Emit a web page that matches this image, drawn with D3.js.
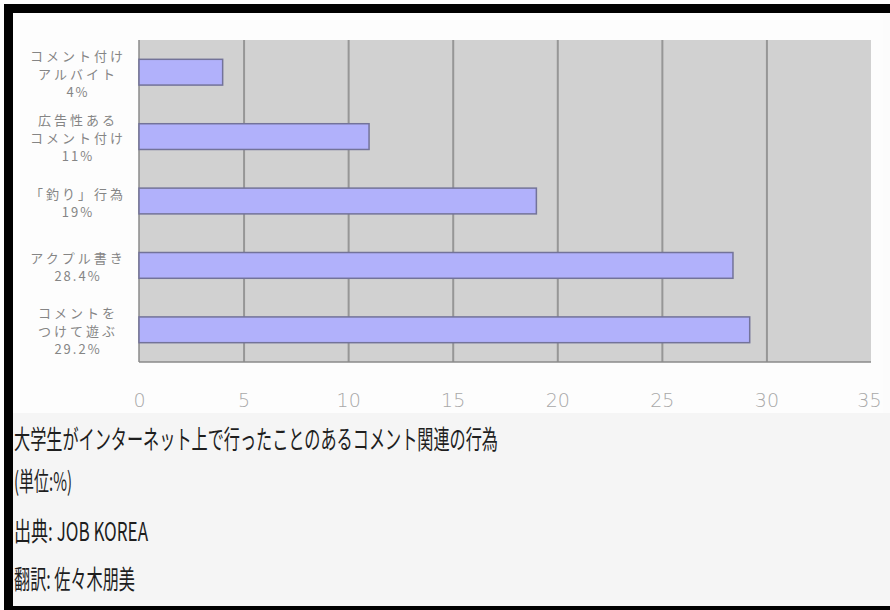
<!DOCTYPE html>
<html>
<head>
<meta charset="utf-8">
<script src="https://cdn.jsdelivr.net/npm/d3@7"></script>
<style>
  body { margin: 0; background: #fff; }
  svg { display: block; }
</style>
</head>
<body>
<div id="chart"></div>
<script>
// data
var categories = ['コメント付け|アルバイト|4%', '広告性ある|コメント付け|11%', '「釣り」行為|19%', 'アクプル書き|28.4%', 'コメントを|つけて遊ぶ|29.2%'];
var values = [4, 11, 19, 28.4, 29.2];
var tick_values = [0, 5, 10, 15, 20, 25, 30, 35];
var caption_lines = ['大学生がインターネット上で行ったことのあるコメント関連の行為', '(単位:%)', '出典: JOB KOREA', '翻訳: 佐々木朋美'];
var caption_widths = [484, 58, 134, 121];

var width = 890, height = 610;
var svg = d3.select('#chart').append('svg').attr('width', width).attr('height', height);

// frame: black on top, left and bottom
svg.append('rect').attr('x', 0).attr('y', 0).attr('width', width).attr('height', height).attr('fill', '#fcfcfc');
svg.append('rect').attr('x', 13).attr('y', 13).attr('width', 870).attr('height', 400).attr('fill', '#fdfdfd');
svg.append('rect').attr('x', 13).attr('y', 413).attr('width', 877).attr('height', 193).attr('fill', '#f5f5f5');
svg.append('rect').attr('x', 4).attr('y', 4).attr('width', 886).attr('height', 9).attr('fill', '#000');
svg.append('rect').attr('x', 4).attr('y', 4).attr('width', 9).attr('height', 606).attr('fill', '#000');
svg.append('rect').attr('x', 4).attr('y', 606).attr('width', 886).attr('height', 4).attr('fill', '#000');

var plot = { left: 139, top: 40, right: 871, bottom: 362 };

var x_scale = d3.scaleLinear().domain([0, 35]).range([plot.left, plot.right]);
var y_scale = d3.scaleBand().domain(categories).range([plot.top, plot.bottom])
    .paddingInner(0.6).paddingOuter(0.3);

// plot background
svg.append('rect')
    .attr('x', plot.left).attr('y', plot.top)
    .attr('width', plot.right - plot.left).attr('height', plot.bottom - plot.top)
    .attr('fill', '#d1d1d1');

// vertical grid lines
var grid = svg.append('g')
    .attr('transform', 'translate(0,' + plot.bottom + ')')
    .call(d3.axisBottom(x_scale).tickValues(tick_values.slice(1, -1)).tickSize(-(plot.bottom - plot.top)).tickFormat(''));
grid.select('.domain').remove();
grid.selectAll('line').attr('stroke', '#969696').attr('stroke-width', 2);

// axis lines left and bottom
svg.append('line').attr('x1', plot.left).attr('x2', plot.left).attr('y1', plot.top).attr('y2', plot.bottom)
    .attr('stroke', '#8a8a8a').attr('stroke-width', 1.5);
svg.append('line').attr('x1', plot.left).attr('x2', plot.right).attr('y1', plot.bottom).attr('y2', plot.bottom)
    .attr('stroke', '#8a8a8a').attr('stroke-width', 1.5);

// bars
svg.append('g').selectAll('rect').data(values).enter().append('rect')
    .attr('x', x_scale(0))
    .attr('y', (d, i) => y_scale(categories[i]))
    .attr('width', d => x_scale(d) - x_scale(0))
    .attr('height', y_scale.bandwidth())
    .attr('fill', '#b1b1fb')
    .attr('stroke', '#737399')
    .attr('stroke-width', 1.5);

// x tick labels
var x_axis = svg.append('g')
    .attr('transform', 'translate(0,' + 400 + ')')
    .call(d3.axisBottom(x_scale).tickValues(tick_values).tickSize(0).tickPadding(0));
x_axis.select('.domain').remove();
x_axis.selectAll('text')
    .attr('dy', '0.35em')
    .attr('fill', '#a8a8a8')
    .attr('font-family', '"DejaVu Sans", sans-serif')
    .attr('font-weight', 200)
    .attr('font-size', 19)
    .attr('text-anchor', d => d === 35 ? 'end' : 'middle')
    .attr('x', d => d === 35 ? 10 : 0);

// category labels, centred to the left of the plot
var labels = svg.append('g');
categories.forEach((cat, i) => {
    var lines = cat.split('|');
    var cy = y_scale(cat) + y_scale.bandwidth() / 2 + 2;
    var line_h = 18;
    lines.forEach((line, j) => {
        var is_num = /%$/.test(line);
        labels.append('text')
            .attr('x', 78)
            .attr('y', cy + (j - (lines.length - 1) / 2) * line_h)
            .attr('dy', '0.35em')
            .attr('text-anchor', 'middle')
            .attr('fill', '#858585')
            .attr('font-family', '"Noto Sans CJK JP", sans-serif')
            .attr('font-size', 13)
            .attr('letter-spacing', is_num ? 2 : 3)
            .text(line);
    });
});

// caption below chart
var caption_y = [440, 482, 532, 580];
caption_lines.forEach((line, i) => {
    svg.append('text')
        .attr('x', 14)
        .attr('y', caption_y[i])
        .attr('dy', '0.36em')
        .attr('fill', '#1e1e1e')
        .attr('font-family', '"Noto Sans CJK JP", sans-serif')
        .attr('font-size', 26)
        .attr('textLength', caption_widths[i])
        .attr('lengthAdjust', 'spacingAndGlyphs')
        .text(line);
});
</script>
</body>
</html>
